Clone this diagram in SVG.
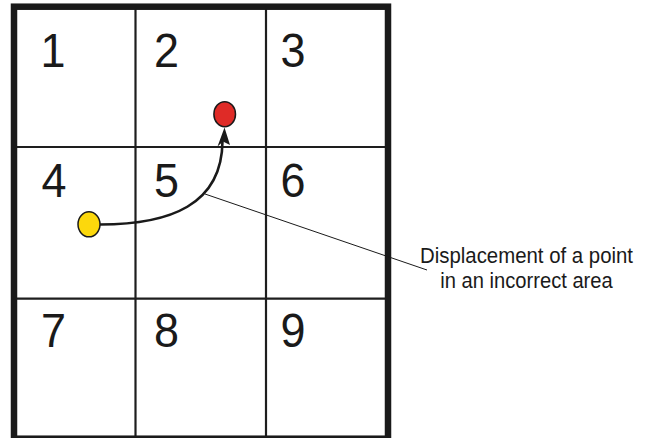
<svg xmlns="http://www.w3.org/2000/svg" width="649" height="438" viewBox="0 0 649 438">
<style>
.grid{stroke:#1e1e1e;stroke-width:2.2;fill:none}
.frame{stroke:#1a1a1a;stroke-width:6.5;fill:none}
.num{font-family:"Liberation Sans",Arial,sans-serif;font-size:48.5px;fill:#1a1a1a}
.lbl{font-family:"Liberation Sans",Arial,sans-serif;font-size:21.5px;fill:#1a1a1a;text-anchor:middle}
.pt{stroke:#1a1a1a;stroke-width:1.5}
</style>
<rect width="649" height="438" fill="#ffffff"/>
<g id="grid">
<line class="grid" x1="135.5" y1="8" x2="135.5" y2="436"/>
<line class="grid" x1="266" y1="8" x2="266" y2="436"/>
<line class="grid" x1="15" y1="147" x2="387" y2="147"/>
<line class="grid" x1="15" y1="298.7" x2="387" y2="298.7"/>
<rect class="frame" x="14" y="6.7" width="374" height="432"/>
</g>
<g id="cell1"><text class="num" x="40.5" y="66.5" textLength="25" lengthAdjust="spacingAndGlyphs">1</text></g>
<g id="cell2"><text class="num" x="154" y="66.5" textLength="25" lengthAdjust="spacingAndGlyphs">2</text></g>
<g id="cell3"><text class="num" x="280.5" y="66.5" textLength="25" lengthAdjust="spacingAndGlyphs">3</text></g>
<g id="cell4"><text class="num" x="41.5" y="197" textLength="25" lengthAdjust="spacingAndGlyphs">4</text></g>
<g id="cell5"><text class="num" x="154" y="197" textLength="25" lengthAdjust="spacingAndGlyphs">5</text></g>
<g id="cell6"><text class="num" x="280.5" y="197" textLength="25" lengthAdjust="spacingAndGlyphs">6</text></g>
<g id="cell7"><text class="num" x="41" y="347" textLength="25" lengthAdjust="spacingAndGlyphs">7</text></g>
<g id="cell8"><text class="num" x="154" y="347" textLength="25" lengthAdjust="spacingAndGlyphs">8</text></g>
<g id="cell9"><text class="num" x="280.5" y="347" textLength="25" lengthAdjust="spacingAndGlyphs">9</text></g>
<g id="connectors">
<path d="M100,224.5 C170,224.5 222,205 222.5,141" fill="none" stroke="#1a1a1a" stroke-width="2.6"/>
<path d="M224.5,127.5 L230,145 L223,141.5 L217.5,146.5 Z" fill="#1a1a1a"/>
<line x1="205" y1="194" x2="427" y2="270" stroke="#1a1a1a" stroke-width="1"/>
</g>
<g id="start-point"><ellipse class="pt" cx="89" cy="224.3" rx="11" ry="12.5" fill="#fcd80c"/></g>
<g id="end-point"><ellipse class="pt" cx="224.7" cy="114.2" rx="10.8" ry="12.5" fill="#df2b27"/></g>
<g id="label">
<text class="lbl" x="526.5" y="263" textLength="213" lengthAdjust="spacingAndGlyphs">Displacement of a point</text>
<text class="lbl" x="526.5" y="287.7" textLength="172.5" lengthAdjust="spacingAndGlyphs">in an incorrect area</text>
</g>
</svg>
